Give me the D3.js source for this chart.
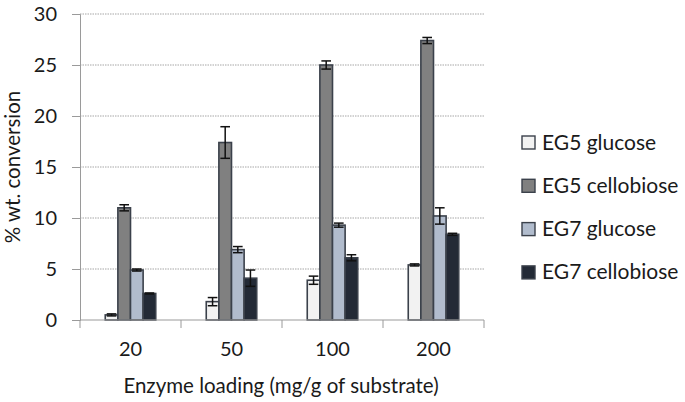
<!DOCTYPE html>
<html>
<head>
<meta charset="utf-8">
<script src="https://cdn.jsdelivr.net/npm/d3@7"></script>
<style>
body { margin: 0; background: #fff; }
text { font-family: Lato, "Open Sans", sans-serif; fill: #1a1a1a; }
</style>
</head>
<body>
<svg id="chart" width="685" height="402"></svg>
<script>
// categories and series
var loadings = ["20", "50", "100", "200"]
var seriesNames = ["EG5 glucose", "EG5 cellobiose", "EG7 glucose", "EG7 cellobiose"]
var eg5Glucose = [0.5, 1.8, 3.9, 5.4]
var eg5Cellobiose = [11.0, 17.4, 25.0, 27.4]
var eg7Glucose = [4.9, 6.9, 9.3, 10.2]
var eg7Cellobiose = [2.6, 4.1, 6.1, 8.4]
var eg5GlucoseErr = [0.1, 0.4, 0.4, 0.1]
var eg5CellobioseErr = [0.3, 1.55, 0.4, 0.3]
var eg7GlucoseErr = [0.1, 0.3, 0.2, 0.8]
var eg7CellobioseErr = [0.05, 0.8, 0.3, 0.1]
var yTicks = [0, 5, 10, 15, 20, 25, 30]
var colors = ["#f2f2f2", "#808080", "#b1bccd", "#232a36"]

var values = [eg5Glucose, eg5Cellobiose, eg7Glucose, eg7Cellobiose]
var errors = [eg5GlucoseErr, eg5CellobioseErr, eg7GlucoseErr, eg7CellobioseErr]

var margin = {left: 80, top: 14, right: 201, bottom: 82}
var width = 685 - margin.left - margin.right
var height = 402 - margin.top - margin.bottom

var svg = d3.select("#chart")
var g = svg.append("g").attr("transform", "translate(" + margin.left + "," + margin.top + ")")

var x = d3.scaleBand().domain(loadings).range([0, width]).paddingInner(0).paddingOuter(0)
var xs = d3.scaleBand().domain(d3.range(4)).range([x.bandwidth() * 0.25, x.bandwidth() * 0.75])
var y = d3.scaleLinear().domain([0, 30]).range([height, 0])

// dotted gridlines
g.selectAll(".grid")
	.data(yTicks.slice(1))
	.enter().append("line")
	.attr("x1", 0).attr("x2", width)
	.attr("y1", function(d) { return y(d) }).attr("y2", function(d) { return y(d) })
	.attr("stroke", "#a6a6a6").attr("stroke-width", 1).attr("stroke-dasharray", "1.5,1")

// y axis
var yAxis = g.append("g")
	.call(d3.axisLeft(y).tickValues(yTicks).tickSize(8).tickPadding(15))
yAxis.select(".domain").attr("stroke", "#9a9a9a")
yAxis.selectAll(".tick line").attr("stroke", "#9a9a9a")
yAxis.selectAll("text").style("font-size", "20px").attr("fill", "#1a1a1a")

// bars
var groups = g.selectAll(".grp")
	.data(loadings)
	.enter().append("g")
	.attr("transform", function(d) { return "translate(" + x(d) + ",0)" })

var barData = function(d, i) {
	return values.map(function(s, k) { return {k: k, v: s[i], e: errors[k][i]} })
}

groups.selectAll("rect")
	.data(barData)
	.enter().append("rect")
	.attr("x", function(d) { return xs(d.k) })
	.attr("width", xs.bandwidth())
	.attr("y", function(d) { return y(d.v) })
	.attr("height", function(d) { return height - y(d.v) })
	.attr("fill", function(d) { return colors[d.k] })
	.attr("stroke", "#3b414b").attr("stroke-width", 1.6)

// error bars
var eb = groups.selectAll(".err")
	.data(barData)
	.enter().append("g")
	.attr("stroke", "#111").attr("stroke-width", 1.5)
eb.append("line")
	.attr("x1", function(d) { return xs(d.k) + xs.bandwidth() / 2 })
	.attr("x2", function(d) { return xs(d.k) + xs.bandwidth() / 2 })
	.attr("y1", function(d) { return y(d.v + d.e) })
	.attr("y2", function(d) { return y(d.v - d.e) })
eb.selectAll(".cap")
	.data(function(d) { return [{k: d.k, v: d.v + d.e}, {k: d.k, v: d.v - d.e}] })
	.enter().append("line")
	.attr("x1", function(d) { return xs(d.k) + 1.5 })
	.attr("x2", function(d) { return xs(d.k) + xs.bandwidth() - 1.5 })
	.attr("y1", function(d) { return y(d.v) })
	.attr("y2", function(d) { return y(d.v) })

// x axis
var xAxis = g.append("g")
	.attr("transform", "translate(0," + height + ")")
	.call(d3.axisBottom(x).tickSize(0).tickPadding(22))
xAxis.select(".domain").attr("stroke", "#9a9a9a").attr("d", "M0,0H" + width)
xAxis.selectAll("text").style("font-size", "20px").attr("fill", "#1a1a1a")
g.selectAll(".xtick")
	.data(d3.range(loadings.length + 1))
	.enter().append("line")
	.attr("x1", function(d) { return d * x.step() }).attr("x2", function(d) { return d * x.step() })
	.attr("y1", height).attr("y2", height + 8)
	.attr("stroke", "#9a9a9a")

// axis titles
svg.append("text")
	.attr("x", margin.left + width / 2 - 1).attr("y", 393)
	.attr("text-anchor", "middle")
	.style("font-size", "20.5px")
	.text("Enzyme loading (mg/g of substrate)")
svg.append("text")
	.attr("transform", "translate(20," + 167 + ") rotate(-90)")
	.attr("text-anchor", "middle")
	.style("font-size", "20.5px")
	.text("% wt. conversion")

// legend
var legend = svg.selectAll(".leg")
	.data(seriesNames)
	.enter().append("g")
	.attr("transform", function(d, i) { return "translate(522," + (136 + i * 43.3) + ")" })
legend.append("rect")
	.attr("width", 13).attr("height", 13)
	.attr("fill", function(d, i) { return colors[i] })
	.attr("stroke", "#3b414b").attr("stroke-width", 1.4)
legend.append("text")
	.attr("x", 20).attr("y", 13.5)
	.style("font-size", "21px")
	.text(function(d) { return d })
</script>
</body>
</html>
